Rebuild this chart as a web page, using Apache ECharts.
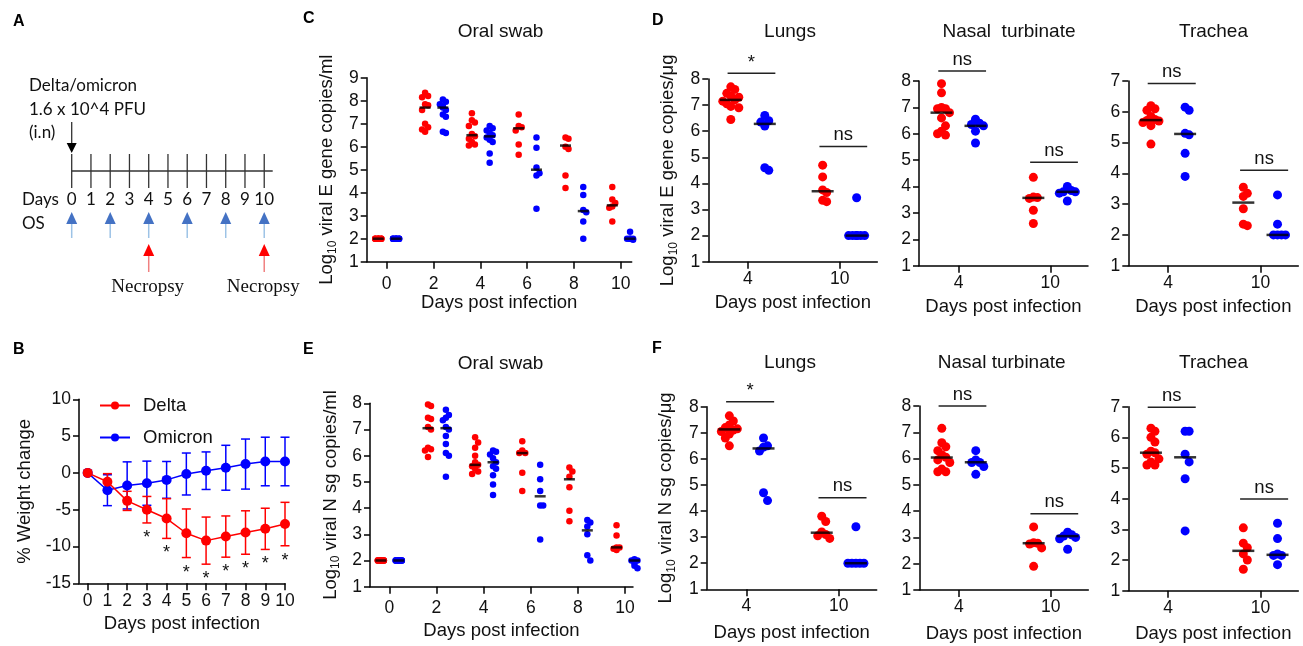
<!DOCTYPE html>
<html><head><meta charset="utf-8">
<script src="https://cdn.jsdelivr.net/npm/echarts@6.0.0/dist/echarts.min.js"></script>
<style>html,body{margin:0;padding:0;background:#fff;}#chart{width:1303px;height:646px;}</style>
</head><body><div id="chart"></div>
<script>
// ---------------- DATA ----------------
const timelineDays = [0,1,2,3,4,5,6,7,8,9,10];
const osDays = [0,2,4,6,8,10];
const necropsyDays = [4,10];
const scheduleText = ['Delta/omicron','1.6 x 10^4 PFU','(i.n)'];

const weightDays = [0,1,2,3,4,5,6,7,8,9,10];
const deltaMean = [0,-1.2,-3.8,-5.0,-6.2,-8.2,-9.2,-8.65,-8.1,-7.6,-6.95];
const deltaSD = [0,1.1,1.3,1.8,2.7,3.3,3.2,2.8,2.95,2.8,2.95];
const omicronMean = [0,-2.35,-1.7,-1.4,-0.95,-0.15,0.3,0.7,1.2,1.55,1.55];
const omicronSD = [0,2.1,3.2,3.0,2.5,2.85,2.55,3.05,3.4,3.3,3.3];
const starDays = [3,4,5,6,7,8,9,10];

const swabDays = [0,2,4,6,8,10];
const swabE_delta = [
  [2,2,2,2,2,2,2,2,2,2],
  [8.35,8.2,8.15,7.85,7.8,7.6,7.0,6.85,6.75,6.65],
  [7.45,7.15,7.05,6.9,6.55,6.45,6.35,6.2,6.1,6.05],
  [7.4,6.9,6.85,6.7,6.1,5.65],
  [6.4,6.35,6.0,5.9,4.75,4.2],
  [4.25,3.7,3.55,3.4,3.35,2.75]
];
const swabE_omicron = [
  [2,2,2,2,2,2,2,2,2,2],
  [8.05,7.95,7.85,7.75,7.7,7.6,7.4,7.3,6.65,6.6],
  [6.9,6.8,6.7,6.6,6.5,6.4,6.3,6.2,5.7,5.3],
  [6.4,5.95,5.1,4.85,4.75,3.3],
  [4.25,3.9,3.25,3.15,2.75,2.0],
  [2.3,2.0,2.0,2.0,2.0,1.95]
];
const swabE_deltaMedian = [2,7.7,6.5,6.8,6.05,3.45];
const swabE_omicronMedian = [2,7.7,6.45,5.0,3.2,2.0];

const swabN_delta = [
  [2,2,2,2,2,2,2,2,2,2],
  [7.95,7.9,7.45,7.4,7.1,7.0,6.3,6.25,6.2,5.95],
  [6.7,6.5,6.3,6.0,5.75,5.65,5.6,5.5,5.4,5.3],
  [6.55,6.2,6.1,6.1,5.35,4.65],
  [5.55,5.4,5.2,4.8,3.9,3.5],
  [3.35,2.95,2.5,2.5,2.45,2.4]
];
const swabN_omicron = [
  [2,2,2,2,2,2,2,2,2,2],
  [7.75,7.55,7.45,7.35,7.1,7.0,6.75,6.45,6.1,6.0,5.2],
  [6.2,6.15,6.05,5.9,5.75,5.6,5.5,5.25,4.9,4.5],
  [5.65,5.1,4.65,4.1,4.1,2.8],
  [3.55,3.45,3.3,3.0,2.2,2.0],
  [2.05,2.0,2.0,1.9,1.8,1.7]
];
const swabN_deltaMedian = [2,7.05,5.65,6.1,5.1,2.5];
const swabN_omicronMedian = [2,7.05,5.75,4.45,3.15,2.0];

const tissueDays = ['4','10'];
const lungsE_delta = [[7.7,7.6,7.45,7.35,7.3,7.2,7.15,7.05,6.95,6.9,6.45],[4.7,4.25,3.75,3.65,3.35,3.3]];
const lungsE_omicron = [[6.6,6.4,6.35,6.2,4.6,4.5],[3.45,2,2,2,2,2,2]];
const lungsE_median = {delta:[7.2,3.7], omicron:[6.28,2.0]};
const lungsE_sig = {y:[8.22,5.41], text:['*','ns']};

const nasalE_delta = [[7.9,7.55,7.0,6.95,6.95,6.8,6.6,6.3,6.1,6.0,5.95],[4.35,3.6,3.58,3.55,3.1,2.6]];
const nasalE_omicron = [[6.55,6.4,6.35,6.3,6.1,5.65],[4.0,3.85,3.8,3.8,3.75,3.45]];
const nasalE_median = {delta:[6.8,3.57], omicron:[6.3,3.8]};
const nasalE_sig = {y:[8.38,4.92], text:['ns','ns']};

const tracheaE_delta = [[6.2,6.1,6.05,5.85,5.75,5.72,5.7,5.65,5.55,4.95],[3.55,3.35,3.25,2.85,2.35,2.3]];
const tracheaE_omicron = [[6.15,6.05,5.3,5.25,4.65,3.9],[3.3,2.35,2,2,2,2]];
const tracheaE_median = {delta:[5.73,3.05], omicron:[5.28,2.0]};
const tracheaE_sig = {y:[6.92,4.1], text:['ns','ns']};

const lungsN_delta = [[7.65,7.45,7.3,7.2,7.15,7.1,7.05,6.95,6.8,6.5],[3.8,3.6,3.2,3.1,3.05,2.95]];
const lungsN_omicron = [[6.8,6.5,6.45,6.3,4.7,4.4],[3.4,2,2,2,2,2]];
const lungsN_median = {delta:[7.13,3.17], omicron:[6.4,2.0]};
const lungsN_sig = {y:[8.19,4.51], text:['*','ns']};

const nasalN_delta = [[7.15,6.6,6.45,6.3,6.15,6.05,5.95,5.85,5.6,5.5,5.5],[3.4,2.8,2.78,2.75,2.6,1.9]];
const nasalN_omicron = [[6.3,5.95,5.85,5.85,5.7,5.4],[3.2,3.1,3.05,3.0,2.95,2.55]];
const nasalN_median = {delta:[6.04,2.78], omicron:[5.86,3.05]};
const nasalN_sig = {y:[8.0,3.9], text:['ns','ns']};

const tracheaN_delta = [[6.3,6.2,6.0,5.85,5.55,5.5,5.45,5.3,5.2,5.1,5.1],[3.05,2.55,2.4,2.2,2.0,1.7]];
const tracheaN_omicron = [[6.2,6.2,5.45,5.2,4.65,2.95],[3.2,2.7,2.2,2.15,2.15,1.85]];
const tracheaN_median = {delta:[5.5,2.3], omicron:[5.35,2.17]};
const tracheaN_sig = {y:[6.98,3.99], text:['ns','ns']};

// ---------------- STYLE / LAYOUT ----------------
const FONT = '"Liberation Sans", Arial, sans-serif';
const CAL = 'Lato, "Open Sans", sans-serif';
const TXT = '#111';
const RED = '#ff0000', BLUE = '#0000ff';
const TICK_FS = 17.5, NAME_FS = 18.5, TITLE_FS = 19;

const L = {
  A:  {left:71.7, top:154, width:201, height:34},
  B:  {left:79, top:399.3, width:206, height:184},
  C:  {left:366.7, top:77.7, width:265, height:184},
  E:  {left:370, top:403.3, width:263, height:183.4},
  D1: {left:708.3, top:79, width:169, height:182.7},
  D2: {left:919, top:81, width:169, height:184.7},
  D3: {left:1128.3, top:81, width:170, height:184.7},
  F1: {left:706.7, top:406.7, width:170, height:182.6},
  F2: {left:919.3, top:406, width:169, height:184},
  F3: {left:1128.3, top:406.7, width:170, height:184}
};

const grids = [], xAxes = [], yAxes = [], series = [], graphics = [];
function addGrid(r){ grids.push({left:r.left, top:r.top, width:r.width, height:r.height}); return grids.length-1; }

function nameStyle(){
  return {color:TXT, fontFamily:FONT, fontSize:NAME_FS,
    rich:{a:{fontFamily:FONT, fontSize:NAME_FS, color:TXT, verticalAlign:'top', lineHeight:19},
          s:{fontFamily:FONT, fontSize:12, color:TXT, verticalAlign:'top', lineHeight:12, padding:[9,0,0,0]}}};
}
function xAx(gi, o){
  return {gridIndex:gi, type:'value', min:o.min, max:o.max,
    axisLine:{show:true, onZero:false, lineStyle:{color:'#000', width:1.5}},
    axisTick:{show:true, length:7, customValues:o.ticks, lineStyle:{color:'#000', width:1.5}},
    axisLabel:{show:true, customValues:o.ticks, formatter:o.fmt, color:TXT, fontSize:TICK_FS, fontFamily:FONT, margin:o.margin},
    splitLine:{show:false},
    name:o.name, nameLocation:'middle', nameGap:o.nameGap, nameTextStyle:nameStyle()};
}
function yAx(gi, o){
  return {gridIndex:gi, type:'value', min:o.min, max:o.max, interval:o.interval||1,
    axisLine:{show:true, onZero:false, lineStyle:{color:'#000', width:1.5}},
    axisTick:{show:true, length:6, lineStyle:{color:'#000', width:1.5}},
    axisLabel:{color:TXT, fontSize:TICK_FS, fontFamily:FONT, margin:8},
    splitLine:{show:false},
    name:o.name||'', nameLocation:'middle', nameRotate:90, nameGap:o.nameGap||30, nameTextStyle:nameStyle()};
}

// deterministic beeswarm layout for overlapping dots
function swarm(values, center, rect, xr, yr, dot, stepPx, K){
  const pxX = rect.width/(xr[1]-xr[0]), pxY = rect.height/(yr[1]-yr[0]);
  const cands = [0]; for (let k=1;k<=K;k++){ cands.push(k,-k); }
  const placed = [];
  values.slice().sort((a,b)=>b-a).forEach(v=>{
    let best = 0, bestCnt = Infinity;
    for (const c of cands){
      const ox = c*stepPx; let cnt = 0;
      placed.forEach(p=>{ if (Math.abs((p.v-v)*pxY) < dot*0.9 && Math.abs(p.ox-ox) < stepPx*0.9) cnt++; });
      if (cnt < bestCnt){ best = ox; bestCnt = cnt; }
      if (cnt === 0) break;
    }
    placed.push({v, ox:best});
  });
  return placed.map(p=>[center + p.ox/pxX, p.v]);
}

function dotSeries(gi, pts, color, size){
  return {type:'scatter', xAxisIndex:gi, yAxisIndex:gi, data:pts, symbol:'circle', symbolSize:size,
    itemStyle:{color:color, opacity:1}, silent:true, z:3, clip:false};
}
function medianSeries(gi, pts, w){
  return {type:'scatter', xAxisIndex:gi, yAxisIndex:gi, data:pts, symbol:'rect', symbolSize:[w,2.5],
    itemStyle:{color:'#000'}, silent:true, z:4, clip:false};
}
function textEl(x, y, text, font, align, valign, fill){
  return {type:'text', x:x, y:y, style:{text:text, font:font, fill:fill||TXT,
    align:align, verticalAlign:valign, textAlign:align, textVerticalAlign:valign}};
}

// ---------------- Panel A (timeline) ----------------
(function(){
  const r = L.A, gi = addGrid(r);
  xAxes.push({gridIndex:gi, type:'value', min:0, max:10.44,
    axisLine:{show:false}, axisTick:{show:false}, splitLine:{show:false},
    axisLabel:{show:true, customValues:timelineDays, color:TXT, fontSize:17, fontFamily:CAL, margin:3}});
  yAxes.push({gridIndex:gi, type:'value', min:-1, max:1, show:false});
  series.push({type:'line', xAxisIndex:gi, yAxisIndex:gi, data:[[0,0],[10.44,0]], symbol:'none',
    lineStyle:{color:'#333', width:1.3}, silent:true});
  series.push({type:'custom', xAxisIndex:gi, yAxisIndex:gi, data:timelineDays.map(d=>[d]), silent:true,
    renderItem:(p,api)=>{ const a=api.coord([api.value(0),1]), b=api.coord([api.value(0),-1]);
      return {type:'line', shape:{x1:a[0],y1:a[1],x2:b[0],y2:b[1]}, style:{stroke:'#333', lineWidth:1.3}}; }});
  // infection arrow
  series.push({type:'custom', xAxisIndex:gi, yAxisIndex:gi, data:[[timelineDays[0]]], silent:true,
    renderItem:(p,api)=>{ const t=api.coord([api.value(0),1]);
      return {type:'group', children:[
        {type:'line', shape:{x1:t[0],y1:t[1]-32,x2:t[0],y2:t[1]-10}, style:{stroke:'#333', lineWidth:1.3}},
        {type:'polygon', shape:{points:[[t[0]-5,t[1]-11],[t[0]+5,t[1]-11],[t[0],t[1]-1]]}, style:{fill:'#000'}}
      ]}; }});
  // OS sampling arrows
  series.push({type:'custom', xAxisIndex:gi, yAxisIndex:gi, data:osDays.map(d=>[d]), silent:true,
    renderItem:(p,api)=>{ const b=api.coord([api.value(0),-1]);
      return {type:'group', children:[
        {type:'line', shape:{x1:b[0],y1:b[1]+35,x2:b[0],y2:b[1]+50}, style:{stroke:'#9dc3e6', lineWidth:1.5}},
        {type:'polygon', shape:{points:[[b[0],b[1]+24],[b[0]-5.5,b[1]+36],[b[0]+5.5,b[1]+36]]}, style:{fill:'#4472c4'}}
      ]}; }});
  // necropsy arrows
  series.push({type:'custom', xAxisIndex:gi, yAxisIndex:gi, data:necropsyDays.map(d=>[d]), silent:true,
    renderItem:(p,api)=>{ const b=api.coord([api.value(0),-1]);
      return {type:'group', children:[
        {type:'line', shape:{x1:b[0],y1:b[1]+67,x2:b[0],y2:b[1]+84}, style:{stroke:'#f08080', lineWidth:1.5}},
        {type:'polygon', shape:{points:[[b[0],b[1]+56],[b[0]-5.5,b[1]+68],[b[0]+5.5,b[1]+68]]}, style:{fill:RED}},
        textEl(b[0]-1, b[1]+99, 'Necropsy', '19px "Liberation Serif", "DejaVu Serif", serif', 'center', 'middle')
      ]}; }});
  graphics.push(textEl(22, 200, 'Days', '17px '+CAL, 'left', 'middle'));
  graphics.push(textEl(22, 224, 'OS', '17px '+CAL, 'left', 'middle'));
  const ys = [86,110,133];
  scheduleText.forEach((t,i)=>graphics.push(textEl(29, ys[i], t, '17px '+CAL, 'left', 'middle')));
})();

// ---------------- Panel B (weight) ----------------
(function(){
  const r = L.B, gi = addGrid(r);
  xAxes.push(xAx(gi, {min:-0.44, max:10, ticks:weightDays, margin:9, name:'Days post infection', nameGap:31}));
  yAxes.push(yAx(gi, {min:-15, max:10, interval:5, name:'% Weight change', nameGap:45}));
  const mk = (name, mean, color) => ({type:'line', name:name, xAxisIndex:gi, yAxisIndex:gi,
    data:weightDays.map((d,i)=>[d,mean[i]]), symbol:'circle', symbolSize:10, z:4,
    itemStyle:{color:color}, lineStyle:{color:color, width:1.5}, silent:true});
  const eb = (mean, sd, color) => ({type:'custom', xAxisIndex:gi, yAxisIndex:gi, z:3, silent:true,
    data:weightDays.map((d,i)=>[d,mean[i],sd[i]]),
    renderItem:(p,api)=>{ const x=api.value(0), m=api.value(1), s=api.value(2); if (!s) return null;
      const a=api.coord([x,m+s]), b=api.coord([x,m-s]), w=4.5;
      const st={stroke:color, lineWidth:1.5};
      return {type:'group', children:[
        {type:'line', shape:{x1:a[0],y1:a[1],x2:b[0],y2:b[1]}, style:st},
        {type:'line', shape:{x1:a[0]-w,y1:a[1],x2:a[0]+w,y2:a[1]}, style:st},
        {type:'line', shape:{x1:b[0]-w,y1:b[1],x2:b[0]+w,y2:b[1]}, style:st}]}; }});
  series.push(eb(omicronMean, omicronSD, BLUE), eb(deltaMean, deltaSD, RED));
  series.push(mk('Omicron', omicronMean, BLUE), mk('Delta', deltaMean, RED));
  series.push({type:'custom', xAxisIndex:gi, yAxisIndex:gi, silent:true, z:5,
    data:starDays.map(d=>{ const i=weightDays.indexOf(d); return [d, deltaMean[i]-deltaSD[i]-1.5]; }),
    renderItem:(p,api)=>{ const c=api.coord([api.value(0),api.value(1)]);
      return textEl(c[0], c[1]+4, '*', '18px '+FONT, 'center', 'middle'); }});
})();

// ---------------- Panels C & E (oral swab) ----------------
function swabPanel(r, yMax, dArr, oArr, dMed, oMed, yName, nameGapX, marginX, leftPad, pxDay){
  const gi = addGrid(r);
  const xr = [swabDays[0] - leftPad, swabDays[0] - leftPad + r.width/pxDay];
  const yr = [1, yMax];
  xAxes.push(xAx(gi, {min:xr[0], max:xr[1], ticks:swabDays, margin:marginX, name:'Days post infection', nameGap:nameGapX}));
  yAxes.push(yAx(gi, {min:1, max:yMax, name:yName, nameGap:30}));
  const offD = -0.36, offO = 0.4;
  const pd=[], po=[], md=[];
  swabDays.forEach((d,i)=>{
    pd.push(...swarm(dArr[i], d+offD, r, xr, yr, 6.5, 3, 1));
    po.push(...swarm(oArr[i], d+offO, r, xr, yr, 6.5, 3, 1));
    md.push([d+offD, dMed[i]], [d+offO, oMed[i]]);
  });
  series.push(dotSeries(gi, pd, RED, 6.5), dotSeries(gi, po, BLUE, 6.5), medianSeries(gi, md, 11));
}
swabPanel(L.C, 9, swabE_delta, swabE_omicron, swabE_deltaMedian, swabE_omicronMedian,
  '{a|Log}{s|10}{a| viral E gene copies/ml}', 31, 13, 0.855, 23.4);
swabPanel(L.E, 8, swabN_delta, swabN_omicron, swabN_deltaMedian, swabN_omicronMedian,
  '{a|Log}{s|10}{a| viral N sg copies/ml}', 34.5, 12, 0.82, 23.57);

// ---------------- Panels D & F (tissues) ----------------
function tissuePanel(r, yMax, dArr, oArr, med, sig, yName, nameGapX){
  const gi = addGrid(r);
  const xr = [-0.43, 1.41], yr = [1, yMax];
  xAxes.push(xAx(gi, {min:xr[0], max:xr[1], ticks:[0,1], fmt:v=>tissueDays[Math.round(v)], margin:8,
    name:'Days post infection', nameGap:nameGapX}));
  yAxes.push(yAx(gi, {min:1, max:yMax, name:yName||'', nameGap:31}));
  const off = 0.185, pd=[], po=[], md=[];
  tissueDays.forEach((t,i)=>{
    pd.push(...swarm(dArr[i], i-off, r, xr, yr, 9, 4, 2));
    po.push(...swarm(oArr[i], i+off, r, xr, yr, 9, 4, 2));
    md.push([i-off, med.delta[i]], [i+off, med.omicron[i]]);
  });
  series.push(dotSeries(gi, pd, RED, 9), dotSeries(gi, po, BLUE, 9), medianSeries(gi, md, 22));
  series.push({type:'custom', xAxisIndex:gi, yAxisIndex:gi, silent:true, z:5,
    data:sig.y.map((y,i)=>[i,y]),
    renderItem:(p,api)=>{ const i=api.value(0), y=api.value(1);
      const a=api.coord([i-0.22,y]), b=api.coord([i+0.3,y]);
      const txt = sig.text[p.dataIndex];
      return {type:'group', children:[
        {type:'line', shape:{x1:a[0],y1:a[1],x2:b[0],y2:b[1]}, style:{stroke:'#222', lineWidth:1.5}},
        textEl((a[0]+b[0])/2, a[1]-(txt==='*'?1:2), txt, NAME_FS+'px '+FONT, 'center', 'bottom')]}; }});
}
tissuePanel(L.D1, 8, lungsE_delta, lungsE_omicron, lungsE_median, lungsE_sig, '{a|Log}{s|10}{a| viral E gene copies/μg}', 31.5);
tissuePanel(L.D2, 8, nasalE_delta, nasalE_omicron, nasalE_median, nasalE_sig, '', 31.5);
tissuePanel(L.D3, 7, tracheaE_delta, tracheaE_omicron, tracheaE_median, tracheaE_sig, '', 31.5);
tissuePanel(L.F1, 8, lungsN_delta, lungsN_omicron, lungsN_median, lungsN_sig, '{a|Log}{s|10}{a| viral N sg copies/μg}', 34);
tissuePanel(L.F2, 8, nasalN_delta, nasalN_omicron, nasalN_median, nasalN_sig, '', 34);
tissuePanel(L.F3, 7, tracheaN_delta, tracheaN_omicron, tracheaN_median, tracheaN_sig, '', 34);

// ---------------- Titles & panel letters ----------------
const titles = [
  ['Oral swab', 500.5, 32], ['Lungs', 790, 32], ['Nasal  turbinate', 1009, 31.5], ['Trachea', 1213.5, 31.5],
  ['Oral swab', 500.5, 363.5], ['Lungs', 790, 363], ['Nasal turbinate', 1001.7, 362.5], ['Trachea', 1213.5, 363]
];
titles.forEach(t=>graphics.push(textEl(t[1], t[2], t[0], TITLE_FS+'px '+FONT, 'center', 'middle')));
const letters = [['A',13,22],['B',13,350],['C',303,19],['D',652,21],['E',303,350],['F',652,349]];
letters.forEach(l=>graphics.push(textEl(l[1], l[2], l[0], 'bold 16px '+FONT, 'left', 'middle', '#000')));

const chart = echarts.init(document.getElementById('chart'), null, {renderer:'canvas'});
chart.setOption({
  animation:false, backgroundColor:'#fff',
  grid:grids, xAxis:xAxes, yAxis:yAxes, series:series,
  legend:{data:['Delta','Omicron'], orient:'vertical', left:94, top:391, itemWidth:30, itemHeight:10, itemGap:13,
    textStyle:{color:TXT, fontSize:NAME_FS, fontFamily:FONT, padding:[0,0,0,8]}, selectedMode:false},
  graphic:{elements:graphics}
});
</script></body></html>
